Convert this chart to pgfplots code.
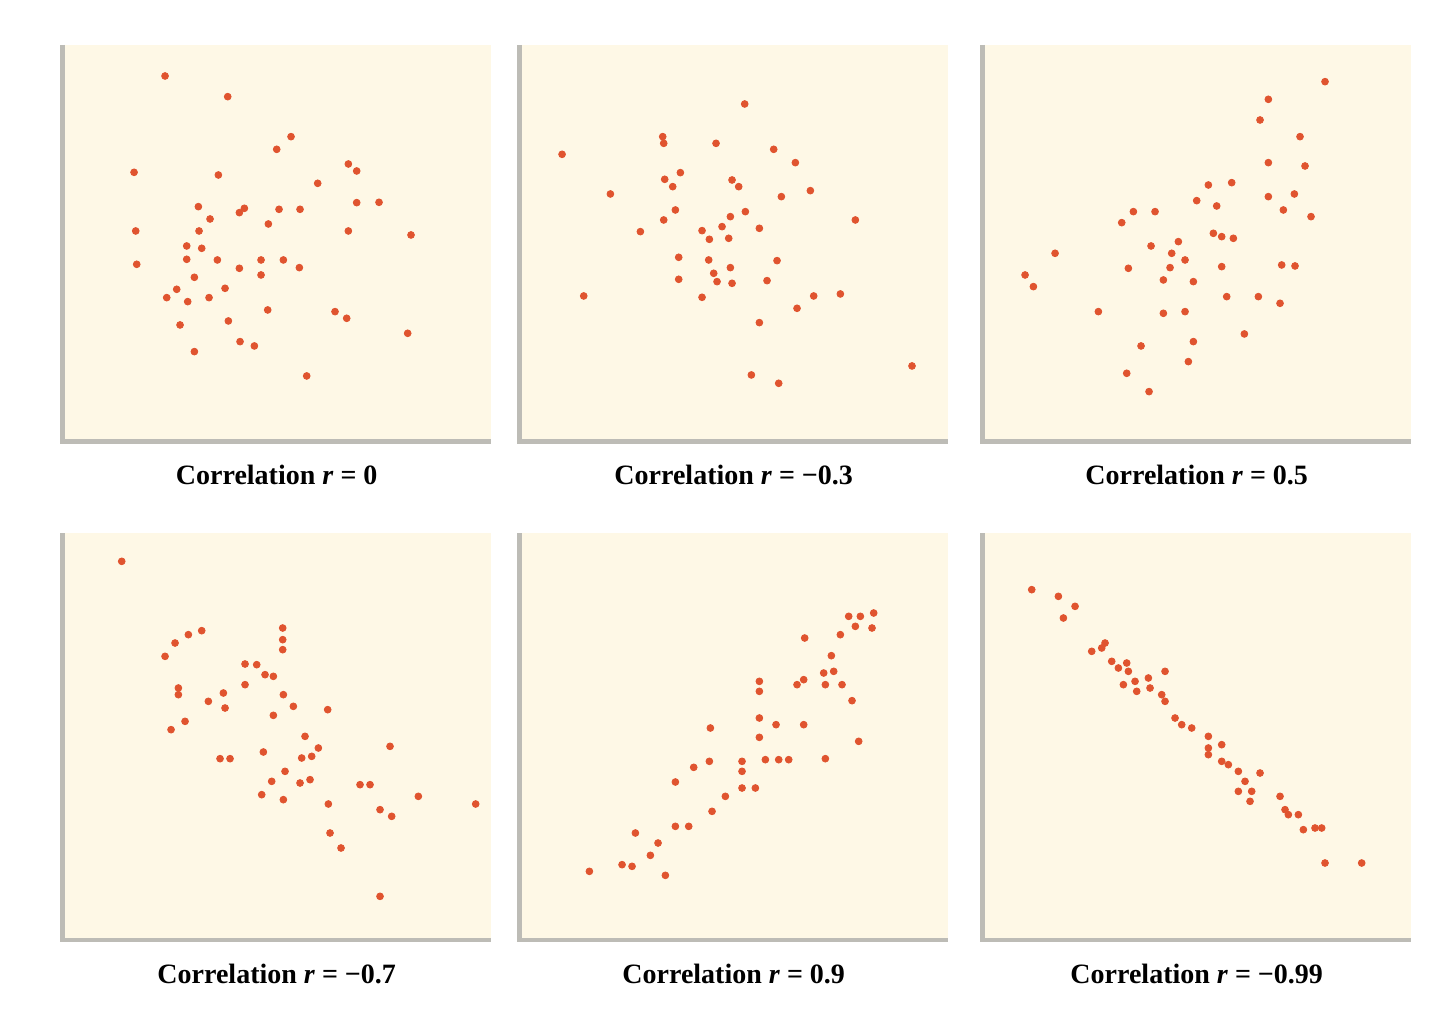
\documentclass[border=0pt]{standalone}
\usepackage{pgfplots}
\pgfplotsset{compat=1.18}
\usepackage{fontspec}
\setmainfont{Liberation Serif}
\definecolor{cream}{HTML}{FEF8E6}
\definecolor{dotred}{HTML}{E0542F}
\definecolor{edgegray}{HTML}{BDBCB6}
\pgfplotsset{
  panel/.style={
    scale only axis, width=214.3pt,
    xmin=22, xmax=1308, ymin=15, y dir=reverse,
    axis line style={draw=none}, ticks=none, clip=false,
    axis background/.style={fill=cream},
  },
  row1/.style={panel, height=198.3pt, ymax=1205},
  row2/.style={panel, height=203.5pt, ymax=1236},
  dots/.style={only marks, mark=*, mark size=1.7pt, color=dotred, mark options={draw=none, fill=dotred}},
}
\newcommand{\paneldeco}[1]{%
  \draw[edgegray, line width=2.2pt] (axis description cs:0,1) -- (axis description cs:0,0) -- (axis description cs:1,0);
  \node[font=\bfseries\fontsize{14}{16}\selectfont] at (axis description cs:0.5,0) [yshift=-16.8pt] {#1};
}
\begin{document}
\begin{tikzpicture}
\useasboundingbox (0,0) rectangle (720pt,506.5pt);
% Panel 1: r = 0
\begin{axis}[row1, at={(31.2pt,285.7pt)}, anchor=south west]
\addplot[dots] table {
x y
330 108
518 170
708 290
665 328
237 397
490 405
880 372
905 393
788 430
905 488
972 487
430 500
465 537
568 505
553 518
672 508
735 508
640 552
242 573
432 573
880 573
1068 585
395 618
440 625
395 658
487 660
618 660
685 660
245 673
553 685
618 705
733 683
418 712
510 745
365 748
335 773
398 785
462 773
638 810
840 815
875 835
375 855
520 843
555 905
598 918
418 935
1058 880
755 1008
};
\paneldeco{Correlation \textit{r} = 0}
\end{axis}
% Panel 2: r = -0.3
\begin{axis}[row1, at={(259.7pt,285.7pt)}, anchor=south west]
\addplot[dots] table {
x y
698 192
452 290
455 310
612 310
150 343
785 328
850 368
295 462
458 418
482 440
505 398
660 420
680 440
808 470
895 452
1030 540
455 540
490 510
385 575
570 572
592 598
630 560
650 595
655 530
700 515
742 565
500 652
590 660
655 683
795 662
500 718
605 700
615 725
660 730
765 722
215 768
570 772
905 768
985 762
855 805
742 848
718 1005
800 1030
1200 978
};
\paneldeco{Correlation \textit{r} = −0.3}
\end{axis}
% Panel 3: r = 0.5
\begin{axis}[row1, at={(491.2pt,285.7pt)}, anchor=south west]
\addplot[dots] table {
x y
1050 125
880 178
855 240
975 290
880 368
990 378
700 435
770 428
665 482
725 498
880 470
958 462
925 510
1008 530
440 548
475 515
540 515
715 580
740 590
775 595
528 618
610 605
590 640
630 660
240 640
150 705
175 740
460 685
585 683
565 720
655 725
740 680
920 675
960 678
755 770
850 770
915 790
370 815
565 820
630 815
808 882
498 918
655 905
640 965
455 1000
522 1055
};
\paneldeco{Correlation \textit{r} = 0.5}
\end{axis}
% Panel 4: r = -0.7
\begin{axis}[row2, at={(31.2pt,36.5pt)}, anchor=south west]
\addplot[dots] table {
x y
200 100
330 385
360 345
400 320
440 308
683 300
683 335
683 365
570 408
605 410
630 440
655 445
570 470
370 480
370 500
460 520
505 495
510 540
685 500
715 535
655 562
818 545
348 605
390 580
495 692
525 692
625 672
750 625
790 660
740 690
770 685
690 730
650 760
620 800
685 815
735 765
765 755
820 828
915 770
945 770
1005 655
975 845
1010 865
1090 805
1262 828
825 915
858 960
975 1105
};
\paneldeco{Correlation \textit{r} = −0.7}
\end{axis}
% Panel 5: r = 0.9
\begin{axis}[row2, at={(259.7pt,36.5pt)}, anchor=south west]
\addplot[dots] table {
x y
1010 265
1045 265
1085 255
1030 295
1080 300
985 320
878 330
958 383
935 435
965 430
940 470
990 470
1020 518
855 470
875 455
742 460
742 490
742 570
742 628
792 590
875 590
1040 640
595 600
592 700
545 718
690 700
690 730
760 695
800 695
830 695
940 692
490 762
690 780
730 780
640 805
600 850
490 895
530 895
370 915
438 945
415 982
330 1010
360 1015
460 1042
232 1030
};
\paneldeco{Correlation \textit{r} = 0.9}
\end{axis}
% Panel 6: r = -0.99
\begin{axis}[row2, at={(491.2pt,36.5pt)}, anchor=south west]
\addplot[dots] table {
x y
170 185
250 205
300 235
265 270
350 370
390 345
380 360
410 400
430 420
455 405
460 430
445 470
480 460
485 490
520 450
525 480
570 430
560 500
570 520
600 570
620 590
650 600
700 625
700 660
700 680
740 650
740 700
760 710
790 730
810 760
790 790
855 735
830 790
825 820
915 805
930 845
940 860
970 860
985 905
1020 900
1040 900
1050 1005
1160 1005
};
\paneldeco{Correlation \textit{r} = −0.99}
\end{axis}
\end{tikzpicture}
\end{document}
